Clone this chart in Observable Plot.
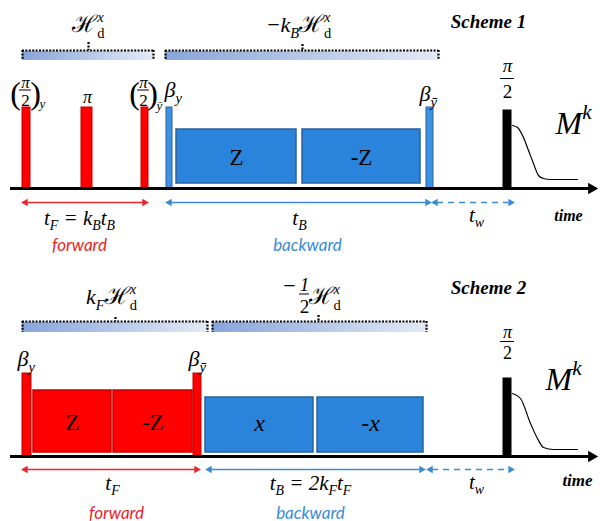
<!DOCTYPE html>
<html><head><meta charset="utf-8">
<script src="https://cdn.jsdelivr.net/npm/d3@7"></script>
<script src="https://cdn.jsdelivr.net/npm/@observablehq/plot@0.6"></script>
<style>body{margin:0;background:#fff}</style>
</head><body><div id="chart"></div>
<script>
// ---------- colours ----------
const red = "#ff0000", redEdge = "#c40000";
const blue = "#2b84db", blueEdge = "#2a609c", blueLight = "#3d92e4";
const arrowRed = "#e8262b", arrowBlue = "#3b8bd6";

// ---------- time axes (one per scheme) ----------
const axes = [
  {scheme: 1, y: 188, x1: 10, tip: 597},
  {scheme: 2, y: 456, x1: 10, tip: 597}
];

// ---------- narrow pulses ----------
const pulses = [
  {scheme: 1, x1: 22, x2: 30, top: 107, base: 188, fill: red, edge: redEdge},
  {scheme: 1, x1: 81, x2: 92, top: 107, base: 188, fill: red, edge: redEdge},
  {scheme: 1, x1: 141, x2: 148, top: 107, base: 188, fill: red, edge: redEdge},
  {scheme: 1, x1: 166, x2: 172, top: 107, base: 188, fill: blueLight, edge: blueEdge},
  {scheme: 1, x1: 426, x2: 433, top: 107, base: 188, fill: blueLight, edge: blueEdge},
  {scheme: 1, x1: 503, x2: 511, top: 110, base: 188, fill: "#000000", edge: "#000000"},
  {scheme: 2, x1: 22, x2: 31, top: 373, base: 456, fill: red, edge: redEdge},
  {scheme: 2, x1: 193, x2: 201, top: 373, base: 456, fill: red, edge: redEdge},
  {scheme: 2, x1: 503, x2: 511, top: 378, base: 456, fill: "#000000", edge: "#000000"}
];

// ---------- long blocks ----------
const blocks = [
  {scheme: 1, x1: 176, x2: 296, top: 129, bottom: 183, label: "Z", fill: blue, edge: blueEdge, italic: false},
  {scheme: 1, x1: 302, x2: 420, top: 129, bottom: 183, label: "-Z", fill: blue, edge: blueEdge, italic: false},
  {scheme: 2, x1: 33, x2: 111, top: 390, bottom: 452, label: "Z", fill: red, edge: redEdge, italic: false},
  {scheme: 2, x1: 113, x2: 192, top: 390, bottom: 452, label: "-Z", fill: red, edge: redEdge, italic: false},
  {scheme: 2, x1: 205, x2: 313, top: 397, bottom: 452, label: "x", fill: blue, edge: blueEdge, italic: true},
  {scheme: 2, x1: 317, x2: 423, top: 397, bottom: 452, label: "-x", fill: blue, edge: blueEdge, italic: true}
];

// ---------- Hamiltonian brackets ----------
const brackets = [
  {scheme: 1, x1: 22, x2: 153, top: 50, bottom: 60, tick: 88, tickTop: 42},
  {scheme: 1, x1: 165, x2: 438, top: 50, bottom: 60, tick: 302, tickTop: 44},
  {scheme: 2, x1: 22, x2: 207, top: 321, bottom: 332, tick: 115, tickTop: 317},
  {scheme: 2, x1: 212, x2: 426, top: 321, bottom: 332, tick: 318, tickTop: 315}
];

// ---------- double arrows (durations) ----------
const spans = [
  {scheme: 1, x1: 22, x2: 147, y: 202, c: arrowRed, dash: null},
  {scheme: 1, x1: 166, x2: 430, y: 202, c: arrowBlue, dash: null},
  {scheme: 1, x1: 432, x2: 513, y: 202, c: arrowBlue, dash: "6,5"},
  {scheme: 2, x1: 22, x2: 199, y: 469, c: arrowRed, dash: null},
  {scheme: 2, x1: 206, x2: 424, y: 469, c: arrowBlue, dash: null},
  {scheme: 2, x1: 427, x2: 513, y: 469, c: arrowBlue, dash: "6,5"}
];

// ---------- detected signal M^k ----------
const fid1x = [512, 517, 523, 528, 533, 538, 543, 550, 577];
const fid1y = [125, 127, 137, 150, 163, 175, 178, 179, 179];
const fid2x = [512, 520, 530, 537, 543, 553, 577];
const fid2y = [393, 398, 423, 438, 447, 449, 449];

// ---------- text ----------
const mathLabels = [
  {t: "ℋ_{~d}^{x}", x: 88, y: 31, size: 22, anchor: "middle"},
  {t: "−k_{B}ℋ_{~d}^{x}", x: 298, y: 31, size: 22, anchor: "middle"},
  {t: "π", x: 87, y: 102, size: 18, anchor: "middle"},
  {t: "β_{y}", x: 164, y: 96, size: 22, anchor: "start"},
  {t: "β_{ȳ}", x: 419, y: 100, size: 22, anchor: "start"},
  {t: "t_{F} = k_{B}t_{B}", x: 79, y: 224, size: 21, anchor: "middle"},
  {t: "t_{B}", x: 299, y: 224, size: 21, anchor: "middle"},
  {t: "t_{w}", x: 476, y: 221, size: 21, anchor: "middle"},
  {t: "M^{k}", x: 555, y: 133, size: 32, anchor: "start"},
  {t: "k_{F}ℋ_{~d}^{x}", x: 111, y: 303, size: 22, anchor: "middle"},
  {t: "ℋ_{~d}^{x}", x: 308, y: 303, size: 22, anchor: "start"},
  {t: "β_{y}", x: 17, y: 365, size: 22, anchor: "start"},
  {t: "β_{ȳ}", x: 188, y: 365, size: 22, anchor: "start"},
  {t: "t_{F}", x: 112, y: 489, size: 21, anchor: "middle"},
  {t: "t_{B} = 2k_{F}t_{F}", x: 310, y: 489, size: 21, anchor: "middle"},
  {t: "t_{w}", x: 476, y: 488, size: 21, anchor: "middle"},
  {t: "M^{k}", x: 545, y: 389, size: 32, anchor: "start"}
];
const fractions = [
  {num: "π", den: "2", cx: 25, numY: 87, barY: 89.5, denY: 105, size: 17, half: 6},
  {num: "π", den: "2", cx: 143, numY: 87, barY: 89.5, denY: 105, size: 17, half: 6},
  {num: "π", den: "2", cx: 507, numY: 71, barY: 78, denY: 97, size: 19, half: 7},
  {num: "π", den: "2", cx: 507, numY: 337, barY: 341, denY: 358, size: 18, half: 7},
  {num: "1", den: "2", cx: 304, numY: 290, barY: 293.5, denY: 312, size: 19, half: 5}
];
const parens = [
  {t: "(", x: 15, y: 103}, {t: ")", x: 35, y: 103},
  {t: "(", x: 134, y: 103}, {t: ")", x: 152, y: 103}
];
const parenSubs = [
  {t: "y", x: 39, y: 107}, {t: "ȳ", x: 156, y: 109}
];
const minusSigns = [{t: "−", x: 289, y: 292}];
const schemeTitles = [
  {t: "Scheme 1", x: 488, y: 27},
  {t: "Scheme 2", x: 488, y: 293}
];
const timeLabels = [
  {t: "time", x: 568, y: 220, size: 16},
  {t: "time", x: 577, y: 485, size: 17}
];
const directionLabels = [
  {t: "forward", x: 79, y: 250, c: arrowRed},
  {t: "backward", x: 307, y: 250, c: arrowBlue},
  {t: "forward", x: 116, y: 518, c: arrowRed},
  {t: "backward", x: 310, y: 518, c: arrowBlue}
];

// derived tables for the library
const bracketEnds = brackets.flatMap(b => [{x: b.x1, y1: b.top, y2: b.bottom}, {x: b.x2, y1: b.top, y2: b.bottom}]);
const heads = spans.flatMap(s => [{x: s.x1 + 3, y: s.y, rot: -90, c: s.c}, {x: s.x2 - 3, y: s.y, rot: 90, c: s.c}]);
const fid = [
  ...fid1x.map((x, i) => ({scheme: 1, x, y: fid1y[i]})),
  ...fid2x.map((x, i) => ({scheme: 2, x, y: fid2y[i]}))
];
const serif = "Liberation Serif, Times New Roman, serif";

const gradientDefs = () => {
  const defs = d3.create("svg:defs");
  const g = defs.append("linearGradient").attr("id", "brk").attr("x1", 0).attr("x2", 1).attr("y1", 0).attr("y2", 0);
  g.append("stop").attr("offset", "0%").attr("stop-color", "#88a4d9");
  g.append("stop").attr("offset", "100%").attr("stop-color", "#e3eaf6");
  return defs.node();
};

const dots = {stroke: "#000", strokeWidth: 2.2, strokeDasharray: "2,1.4"};

const chart = Plot.plot({
  width: 600, height: 521, margin: 0,
  x: {domain: [0, 600], axis: null},
  y: {domain: [0, 521], reverse: true, axis: null},
  color: {type: "identity"},
  style: {background: "white"},
  marks: [
    gradientDefs,
    // brackets
    Plot.rect(brackets, {x1: "x1", x2: "x2", y1: d => d.top + 1, y2: "bottom", fill: "url(#brk)"}),
    Plot.ruleY(brackets, {y: "top", x1: "x1", x2: "x2", ...dots}),
    Plot.ruleX(bracketEnds, {x: "x", y1: "y1", y2: "y2", ...dots}),
    Plot.ruleX(brackets, {x: "tick", y1: "tickTop", y2: "top", ...dots}),
    // pulses & blocks
    Plot.rect(pulses, {x1: "x1", x2: "x2", y1: "top", y2: "base", fill: "fill", stroke: "edge", strokeWidth: 1}),
    Plot.rect(blocks, {x1: "x1", x2: "x2", y1: "top", y2: "bottom", fill: "fill", stroke: "edge", strokeWidth: 1.5}),
    Plot.text(blocks.filter(d => !d.italic), {x: d => (d.x1 + d.x2) / 2, y: d => (d.top + d.bottom) / 2 + 8, text: "label", fontSize: 23, fontFamily: serif, lineAnchor: "bottom", fill: "#000"}),
    Plot.text(blocks.filter(d => d.italic), {x: d => (d.x1 + d.x2) / 2, y: d => (d.top + d.bottom) / 2 + 6, text: "label", fontSize: 24, fontStyle: "italic", fontFamily: serif, lineAnchor: "bottom", fill: "#000"}),
    // time axes
    Plot.ruleY(axes, {y: "y", x1: "x1", x2: d => d.tip - 6, stroke: "#000", strokeWidth: 3}),
    Plot.dot(axes, {x: d => d.tip - 6, y: "y", symbol: "triangle", rotate: 90, r: 4.3, fill: "#000", stroke: null}),
    // signal
    Plot.line(fid, {x: "x", y: "y", z: "scheme", curve: "monotone-x", stroke: "#000", strokeWidth: 1.2}),
    // duration arrows
    Plot.ruleY(spans.filter(d => !d.dash), {y: "y", x1: d => d.x1 + 3, x2: d => d.x2 - 3, stroke: "c", strokeWidth: 1.5}),
    Plot.ruleY(spans.filter(d => d.dash), {y: "y", x1: d => d.x1 + 5, x2: d => d.x2 - 5, stroke: "c", strokeWidth: 1.5, strokeDasharray: "6,5"}),
    Plot.dot(heads, {x: "x", y: "y", symbol: "triangle", rotate: "rot", r: 2.8, fill: "c", stroke: null}),
    // math labels
    Plot.text(mathLabels.filter(d => d.anchor === "middle"), {x: "x", y: "y", text: "t", fontSize: "size", fontFamily: serif, fontStyle: "italic", textAnchor: "middle", lineAnchor: "bottom", fill: "#000"}),
    Plot.text(mathLabels.filter(d => d.anchor === "start"), {x: "x", y: "y", text: "t", fontSize: "size", fontFamily: serif, fontStyle: "italic", textAnchor: "start", lineAnchor: "bottom", fill: "#000"}),
    // fractions
    Plot.text(fractions, {x: "cx", y: "numY", text: "num", fontSize: "size", fontFamily: serif, fontStyle: "italic", lineAnchor: "bottom", fill: "#000"}),
    Plot.text(fractions, {x: "cx", y: "denY", text: "den", fontSize: "size", fontFamily: serif, lineAnchor: "bottom", fill: "#000"}),
    Plot.ruleY(fractions, {y: "barY", x1: d => d.cx - d.half, x2: d => d.cx + d.half, stroke: "#000", strokeWidth: 1}),
    Plot.text(parens, {x: "x", y: "y", text: "t", fontSize: 32, fontFamily: serif, lineAnchor: "bottom", fill: "#000"}),
    Plot.text(parenSubs, {x: "x", y: "y", text: "t", fontSize: 13, fontFamily: serif, fontStyle: "italic", textAnchor: "start", lineAnchor: "bottom", fill: "#000"}),
    Plot.text(minusSigns, {x: "x", y: "y", text: "t", fontSize: 22, fontFamily: serif, lineAnchor: "bottom", fill: "#000"}),
    // titles and captions
    Plot.text(schemeTitles, {x: "x", y: "y", text: "t", fontSize: 19, fontFamily: serif, fontStyle: "italic", fontWeight: "bold", lineAnchor: "bottom", fill: "#000"}),
    Plot.text(timeLabels, {x: "x", y: "y", text: "t", fontSize: "size", fontFamily: serif, fontStyle: "italic", fontWeight: 600, lineAnchor: "bottom", fill: "#000"}),
    Plot.text(directionLabels, {x: "x", y: "y", text: "t", fontSize: 17, fontFamily: "Lato, Open Sans, sans-serif", fontStyle: "italic", lineAnchor: "bottom", fill: "c"})
  ]
});
document.getElementById("chart").appendChild(chart);

// turn "_{..}" / "^{..}" markup into sub/superscript tspans ("~" = upright, ℋ always upright)
function richify(root) {
  const NS = "http://www.w3.org/2000/svg";
  root.querySelectorAll("text").forEach(t => {
    const s = t.textContent;
    if (!/[_^]\{/.test(s)) return;
    const fs = parseFloat(getComputedStyle(t).fontSize);
    const parts = s.split(/([_^]\{[^}]*\}|ℋ)/).filter(p => p !== "");
    while (t.firstChild) t.removeChild(t.firstChild);
    let cur = 0, prevSub = null;
    for (const p of parts) {
      const el = document.createElementNS(NS, "tspan");
      let txt = p, target = 0, kind = "n";
      if (p.startsWith("_{")) { kind = "sub"; txt = p.slice(2, -1); target = 0.28 * fs; }
      else if (p.startsWith("^{")) { kind = "sup"; txt = p.slice(2, -1); target = -0.45 * fs; }
      if (txt.startsWith("~")) { txt = txt.slice(1); el.setAttribute("font-style", "normal"); }
      if (kind !== "n") el.setAttribute("font-size", (0.66 * fs) + "px");
      if (p === "ℋ") {
        el.setAttribute("font-style", "normal");
        el.setAttribute("font-family", "DejaVu Serif, serif");
        el.setAttribute("font-size", (1.08 * fs) + "px");
      }
      if (target - cur !== 0) el.setAttribute("dy", (target - cur) + "px");
      cur = target;
      el.textContent = txt;
      t.appendChild(el);
      if (kind === "sup" && prevSub) el.setAttribute("dx", (-prevSub.getComputedTextLength()) + "px");
      prevSub = kind === "sub" ? el : null;
    }
  });
}
richify(chart);
</script></body></html>
